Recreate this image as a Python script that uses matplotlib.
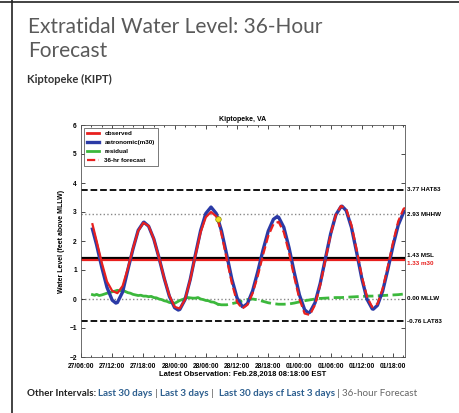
import matplotlib
matplotlib.use("Agg")
import matplotlib.pyplot as plt
from matplotlib.lines import Line2D

# hours after 27/06:00 EST
astro_t = [2.2, 3, 4, 5, 6, 6.7, 7, 8, 9, 10, 11, 12, 12.1, 13, 14, 15, 16, 17, 18, 18.7,
           19, 20, 21, 22, 23, 24, 25, 26, 27, 28, 29, 30, 31, 31.2, 32, 33, 34, 35, 36, 37,
           37.7, 38, 39, 40, 41, 42, 43, 43.7, 44, 45, 46, 47, 48, 49, 50, 50.2, 51, 52, 53,
           54, 55, 56, 56.2, 57, 58, 59, 60, 61, 62, 62.3]
astro_v = [2.41, 1.87, 1.09, 0.40, -0.04, -0.14, -0.12, 0.24, 1.0, 1.73, 2.37, 2.64, 2.65, 2.51,
           2.07, 1.42, 0.71, 0.09, -0.30, -0.38, -0.36, -0.02, 0.67, 1.53, 2.36, 2.95, 3.17,
           2.95, 2.36, 1.54, 0.69, 0.04, -0.26, -0.27, -0.16, 0.28, 0.95, 1.69, 2.34, 2.75,
           2.84, 2.82, 2.47, 1.77, 0.92, 0.14, -0.37, -0.48, -0.46, -0.13, 0.54, 1.40, 2.25,
           2.90, 3.19, 3.2, 3.05, 2.47, 1.61, 0.70, -0.01, -0.34, -0.35, -0.22, 0.27, 1.02,
           1.84, 2.55, 2.98, 3.02]

obs_t = [2.2, 3, 4, 5, 6, 7, 8, 9, 10, 11, 12, 13, 14, 15, 16, 17, 18, 19, 20, 21, 22, 23,
         24, 25, 26, 26.3]
obs_v = [2.58, 2.0, 1.25, 0.6, 0.28, 0.2, 0.45, 1.05, 1.75, 2.35, 2.63, 2.52, 2.07, 1.42,
         0.72, 0.12, -0.27, -0.33, -0.02, 0.66, 1.5, 2.3, 2.82, 3.0, 2.85, 2.76]

fc_t = [26.3, 27, 28, 29, 30, 31, 32, 33, 34, 35, 36, 37, 38, 39, 40, 41, 42, 43, 44, 45,
        46, 47, 48, 49, 50, 51, 52, 53, 54, 55, 56, 57, 58, 59, 60, 61, 62, 62.3]
fc_v = [2.76, 2.25, 1.4, 0.55, -0.1, -0.33, -0.2, 0.2, 0.8, 1.52, 2.17, 2.58, 2.66, 2.3,
        1.6, 0.76, 0.0, -0.5, -0.55, -0.2, 0.48, 1.35, 2.22, 2.9, 3.21, 3.1, 2.55, 1.7,
        0.78, 0.07, -0.28, -0.17, 0.35, 1.12, 1.95, 2.68, 3.1, 3.15]

res_t = [2.2, 2.6, 3, 3.5, 4, 4.5, 5, 5.5, 6, 6.5, 7, 7.5, 8, 8.5, 9, 9.5, 10, 10.5, 11,
         11.5, 12, 12.5, 13, 13.5, 14, 14.5, 15, 15.5, 16, 16.5, 17, 17.5, 18, 18.5, 19,
         19.5, 20, 20.5, 21, 21.5, 22, 22.5, 23, 23.5, 24, 24.5, 25, 25.5, 26, 26.3]
res_v = [0.15, 0.13, 0.16, 0.12, 0.14, 0.17, 0.2, 0.22, 0.25, 0.27, 0.3, 0.28, 0.31, 0.26,
         0.22, 0.2, 0.16, 0.14, 0.12, 0.13, 0.1, 0.1, 0.08, 0.09, 0.05, 0.04, 0.0, -0.02,
         -0.06, -0.08, -0.12, -0.13, -0.15, -0.1, -0.05, -0.02, 0.02, 0.05, 0.04, 0.03,
         0.03, 0.05, 0.0, -0.02, -0.05, -0.06, -0.1, -0.11, -0.15, -0.18]

resf_t = [26.3, 27, 28, 29, 30, 31, 32, 33, 34, 35, 36, 37, 38, 39, 40, 41, 42, 43, 44, 45,
          46, 47, 48, 49, 50, 51, 52, 53, 54, 55, 56, 57, 58, 59, 60, 61, 62, 62.3]
resf_v = [-0.18, -0.2, -0.2, -0.16, -0.12, -0.07, -0.02, 0.0, -0.03, -0.08, -0.13, -0.16,
          -0.18, -0.18, -0.17, -0.14, -0.1, -0.06, -0.03, 0.0, 0.02, 0.03, 0.04, 0.05, 0.05,
          0.06, 0.07, 0.08, 0.09, 0.1, 0.1, 0.11, 0.12, 0.13, 0.14, 0.15, 0.17, 0.17]

latest_t, latest_v = 26.3, 2.76

datums = [3.77, 2.93, 1.43, 1.33, 0.00, -0.76]
datum_names = ["HAT83", "MHHW", "MSL", "m30", "MLLW", "LAT83"]
datum_styles = [("black", "--", 1.3), ("#888888", ":", 1.0), ("black", "-", 1.6),
                ("#e8201e", "-", 1.6), ("#888888", ":", 1.0), ("black", "--", 1.3)]

xtick_labels = ["27/06:00", "27/12:00", "27/18:00", "28/00:00", "28/06:00", "28/12:00",
                "28/18:00", "01/00:00", "01/06:00", "01/12:00", "01/18:00"]

RED = "#e8201e"
BLUE = "#2b3aa6"
GREEN = "#3cb83c"
CF = "Liberation Sans"

fig = plt.figure(figsize=(4.59, 4.13), dpi=100)

# page frame
fig.add_artist(Line2D([12 / 459, 12 / 459], [0, 1], color="#222222", lw=1.2))
fig.add_artist(Line2D([0, 1], [1 - 1.5 / 413, 1 - 1.5 / 413], color="#222222", lw=1.2))

fig.text(28 / 459, 1 - 33 / 413, "Extratidal Water Level: 36-Hour", fontsize=15,
         family="Lato", color="#5a5a5a", va="baseline")
fig.text(28 / 459, 1 - 57 / 413, "Forecast", fontsize=15, family="Lato",
         color="#5a5a5a", va="baseline")
fig.text(27 / 459, 1 - 83 / 413, "Kiptopeke (KIPT)", fontsize=8, family="Lato",
         weight="bold", color="#333333", va="baseline")

# bottom links
parts = [("Other Intervals: ", "#222222", "bold"), ("Last 30 days", "#2d5f8f", "bold"),
         (" | ", "#444444", "normal"), ("Last 3 days", "#2d5f8f", "bold"),
         (" |  ", "#444444", "normal"), ("Last 30 days cf Last 3 days", "#2d5f8f", "bold"),
         (" | ", "#444444", "normal"), ("36-hour Forecast", "#666666", "normal")]
fig.canvas.draw()
r = fig.canvas.get_renderer()
x = 27
for s, c, w in parts:
    t = fig.text(x / 459, 1 - 396 / 413, s, fontsize=7.1, family="Lato", color=c,
                 weight=w, va="baseline")
    x += t.get_window_extent(r).width

ax = fig.add_axes([81 / 459, 1 - 357 / 413, 324 / 459, 232 / 413])

for v, (c, ls, lw) in zip(datums, datum_styles):
    ax.axhline(v, color=c, ls=ls, lw=lw, zorder=1)

ax.plot(resf_t, resf_v, color=GREEN, ls="--", lw=2, zorder=2)
ax.plot(res_t, res_v, color=GREEN, lw=2, zorder=2)
ax.plot(astro_t, astro_v, color=BLUE, lw=2.4, zorder=3)
ax.plot(obs_t, obs_v, color=RED, lw=1.6, zorder=4)
ax.plot(fc_t, fc_v, color=RED, ls="--", lw=1.6, zorder=4)
ax.plot([latest_t], [latest_v], "o", ms=4, mfc="#f0e020", mec="#888800", mew=0.5, zorder=5)

ax.set_xlim(0, 62.3)
ax.set_ylim(-2, 6)
ax.set_xticks(range(0, 61, 6))
ax.set_xticklabels(xtick_labels)
ax.set_xticks(range(0, 63, 2), minor=True)
ax.set_yticks(range(-2, 7))
ax.tick_params(direction="in", top=True, right=True, labelsize=4.8, length=3, width=0.5)
ax.tick_params(axis="x", pad=4)
ax.tick_params(axis="y", pad=3)
ax.tick_params(which="minor", direction="in", top=True, length=1.5, width=0.5)
for lab in ax.get_xticklabels() + ax.get_yticklabels():
    lab.set_family(CF)
    lab.set_weight("bold")
for s in ax.spines.values():
    s.set_linewidth(0.6)
    s.set_color("#555555")

ax.set_title("Kiptopeke, VA", fontsize=5, family=CF, weight="bold", pad=3)
ax.set_xlabel("Latest Observation: Feb.28,2018 08:18:00 EST", fontsize=5.5, family=CF,
              weight="bold", labelpad=1)
ax.set_ylabel("Water Level (feet above MLLW)", fontsize=5, family=CF, weight="bold", labelpad=3)

for v, n, (c, ls, lw) in zip(datums, datum_names, datum_styles):
    tc = RED if n == "m30" else "black"
    dy = -0.12 if n == "m30" else (0.06 if n == "MSL" else 0)
    ax.text(1.007, v + dy, "%.2f %s" % (v, n), transform=ax.get_yaxis_transform(),
            fontsize=4.5, family=CF, weight="bold", color=tc, va="center", ha="left",
            clip_on=False)

ax.text(0.5, -1.75, "DISCLAIMER: Above water level forecast is computer-generated guidance - "
        "User assumes all risk", transform=ax.get_xaxis_transform(), fontsize=4.3,
        family=CF, weight="bold", ha="center", va="center")

handles = [Line2D([], [], color=RED, lw=2), Line2D([], [], color=BLUE, lw=2.4),
           Line2D([], [], color=GREEN, lw=2), Line2D([], [], color=RED, lw=1.6, ls="--")]
leg = ax.legend(handles, ["observed", "astronomic(m30)", "residual", "36-hr forecast"],
                loc="upper left", prop={"family": CF, "weight": "bold", "size": 4.5},
                handlelength=2.0, handletextpad=0.8, labelspacing=0.55, borderpad=0.45,
                fancybox=False, framealpha=1, edgecolor="#444444", borderaxespad=0.5)
leg.get_frame().set_linewidth(0.5)

fig.savefig("out.png", dpi=100)
